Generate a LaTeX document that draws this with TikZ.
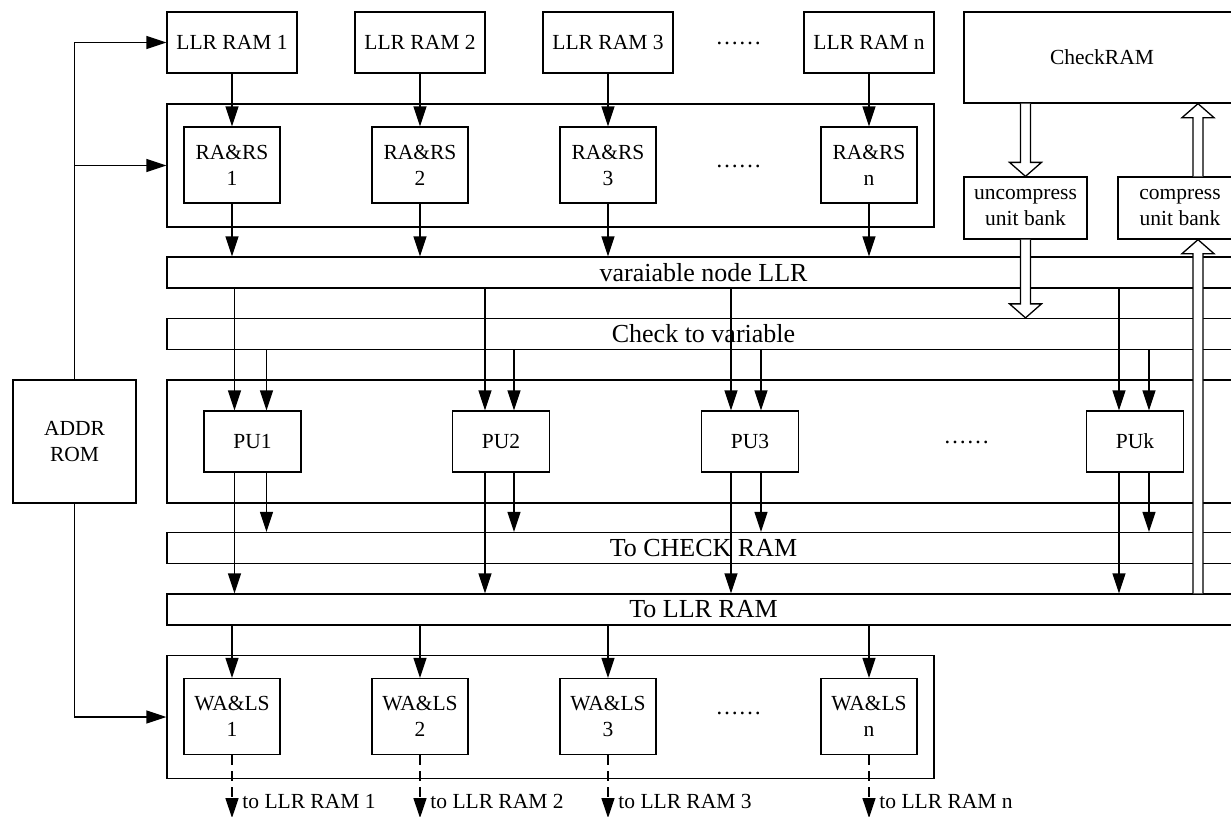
\documentclass[tikz,border=0pt]{standalone}
\usepackage{fontspec}
\setmainfont{Liberation Serif}
\usetikzlibrary{arrows.meta,calc}

% hollow block arrow between two points on one vertical
\newcommand{\fatarrow}[2]{%
  \draw[fatarr] let \p1=(#1), \p2=(#2), \n1={sign(\y1-\y2)} in
    ({\x1-2.5pt},\y1) -- ({\x1-2.5pt},{\y2+(\n1)*7pt}) -- ({\x1-8pt},{\y2+(\n1)*7pt})
    -- (\x1,\y2) -- ({\x1+8pt},{\y2+(\n1)*7pt}) -- ({\x1+2.5pt},{\y2+(\n1)*7pt})
    -- ({\x1+2.5pt},\y1);}

\begin{document}
\begin{tikzpicture}[x=0.5pt, y=-0.5pt,
  box/.style={draw, line width=0.65pt, inner sep=0pt, align=center, font={\fontsize{10.75}{13}\selectfont}},
  ram/.style={box, minimum width=65pt, minimum height=30.5pt},
  unit/.style={box, minimum width=48pt, minimum height=38pt},
  pu/.style={box, minimum width=48.5pt, minimum height=30.5pt},
  bank/.style={draw, line width=0.65pt, inner sep=0pt, minimum width=383.5pt, minimum height=61.5pt},
  bus/.style={draw, line width=0.65pt, inner sep=0pt, minimum width=536.5pt, minimum height=15.5pt, font={\fontsize{13}{15}\selectfont}},
  arr/.style={line width=0.65pt, -{Triangle[length=10pt, width=6.5pt]}},
  outarr/.style={arr, dash pattern=on 5pt off 3pt},
  fatarr/.style={draw, fill=white, line width=0.65pt, line join=miter},
  lbl/.style={anchor=west, inner sep=0pt, font={\fontsize{10.75}{13}\selectfont}},
  dots/.style={anchor=base, inner sep=0pt, font={\fontsize{11.5}{13}\selectfont}}
]
\useasboundingbox (0,0) rectangle (1231,816);
\clip (0,0) rectangle (1231,816);

% memories and read side
\node[ram] (ram1) at (232,42.5) {LLR RAM 1};
\node[ram] (ram2) at (420,42.5) {LLR RAM 2};
\node[ram] (ram3) at (608,42.5) {LLR RAM 3};
\node[ram] (ramn) at (869,42.5) {LLR RAM n};
\node[dots] (rdots) at (738.5,44) {……};
\node[box, minimum width=138pt, minimum height=45.5pt] (chk) at (1102,57.5) {CheckRAM};

\node[bank] (rabank) at (550.5,165.5) {};
\node[unit] (ra1) at (232,165) {RA\&RS\\1};
\node[unit] (ra2) at (420,165) {RA\&RS\\2};
\node[unit] (ra3) at (608,165) {RA\&RS\\3};
\node[unit] (ran) at (869,165) {RA\&RS\\n};
\node[dots] (adots) at (738.5,167) {……};
\node[box, minimum width=61.5pt, minimum height=31pt] (unc) at (1025.5,208) {uncompress\\unit bank};
\node[box, minimum width=62pt, minimum height=31pt] (cmp) at (1180,208) {compress\\unit bank};

% buses and processing units
\node[bus] (vbus) at (703.5,272.5) {varaiable node LLR};
\node[bus] (cbus) at (703.5,334) {Check to variable};
\node[draw, line width=0.65pt, inner sep=0pt, minimum width=536.5pt, minimum height=61.5pt] (pubank) at (703.5,441.5) {};
\node[pu] (pu1) at (252.5,441.5) {PU1};
\node[pu] (pu2) at (501,441.5) {PU2};
\node[pu] (pu3) at (750,441.5) {PU3};
\node[pu] (puk) at (1135,441.5) {PUk};
\node[dots] (pdots) at (966.5,443) {……};
\node[bus] (tcbus) at (703.5,548) {To CHECK RAM};
\node[bus] (tlbus) at (703.5,609.5) {To LLR RAM};

% write side
\node[bank] (wabank) at (550.5,717) {};
\node[unit] (wa1) at (232,716.5) {WA\&LS\\1};
\node[unit] (wa2) at (420,716.5) {WA\&LS\\2};
\node[unit] (wa3) at (608,716.5) {WA\&LS\\3};
\node[unit] (wan) at (869,716.5) {WA\&LS\\n};
\node[dots] (wdots) at (738.5,714) {……};
\node[box, minimum width=61.5pt, minimum height=61.5pt] (addr) at (74.5,441.5) {ADDR\\ROM};

\coordinate (bot) at (0,818);
\node[lbl] (o1) at (242,801) {to LLR RAM 1};
\node[lbl] (o2) at (430,801) {to LLR RAM 2};
\node[lbl] (o3) at (618,801) {to LLR RAM 3};
\node[lbl] (on) at (879,801) {to LLR RAM n};

% address lines
\draw[arr] (addr.north) -- (addr.north |- ram1.west) -- (ram1.west);
\draw[arr] (addr.north |- rabank.west) -- (rabank.west);
\draw[arr] (addr.south) -- (addr.south |- wabank.west) -- (wabank.west);

% read path
\draw[arr] (ram1) -- (ra1);
\draw[arr] (ram2) -- (ra2);
\draw[arr] (ram3) -- (ra3);
\draw[arr] (ramn) -- (ran);
\draw[arr] (ra1) -- (ra1 |- vbus.north);
\draw[arr] (ra2) -- (ra2 |- vbus.north);
\draw[arr] (ra3) -- (ra3 |- vbus.north);
\draw[arr] (ran) -- (ran |- vbus.north);

% unit inputs
\draw[arr] ([xshift=-9pt]pu1.north |- vbus.south) -- ([xshift=-9pt]pu1.north);
\draw[arr] ([xshift=7pt]pu1.north |- cbus.south) -- ([xshift=7pt]pu1.north);
\draw[arr] ([xshift=-8pt]pu2.north |- vbus.south) -- ([xshift=-8pt]pu2.north);
\draw[arr] ([xshift=6.5pt]pu2.north |- cbus.south) -- ([xshift=6.5pt]pu2.north);
\draw[arr] ([xshift=-9.5pt]pu3.north |- vbus.south) -- ([xshift=-9.5pt]pu3.north);
\draw[arr] ([xshift=5.5pt]pu3.north |- cbus.south) -- ([xshift=5.5pt]pu3.north);
\draw[arr] ([xshift=-8pt]puk.north |- vbus.south) -- ([xshift=-8pt]puk.north);
\draw[arr] ([xshift=7pt]puk.north |- cbus.south) -- ([xshift=7pt]puk.north);

% unit outputs
\draw[arr] ([xshift=7pt]pu1.south) -- ([xshift=7pt]pu1.south |- tcbus.north);
\draw[arr] ([xshift=-9pt]pu1.south) -- ([xshift=-9pt]pu1.south |- tlbus.north);
\draw[arr] ([xshift=6.5pt]pu2.south) -- ([xshift=6.5pt]pu2.south |- tcbus.north);
\draw[arr] ([xshift=-8pt]pu2.south) -- ([xshift=-8pt]pu2.south |- tlbus.north);
\draw[arr] ([xshift=5.5pt]pu3.south) -- ([xshift=5.5pt]pu3.south |- tcbus.north);
\draw[arr] ([xshift=-9.5pt]pu3.south) -- ([xshift=-9.5pt]pu3.south |- tlbus.north);
\draw[arr] ([xshift=7pt]puk.south) -- ([xshift=7pt]puk.south |- tcbus.north);
\draw[arr] ([xshift=-8pt]puk.south) -- ([xshift=-8pt]puk.south |- tlbus.north);

% write path
\draw[arr] (wa1 |- tlbus.south) -- (wa1);
\draw[arr] (wa2 |- tlbus.south) -- (wa2);
\draw[arr] (wa3 |- tlbus.south) -- (wa3);
\draw[arr] (wan |- tlbus.south) -- (wan);
\draw[outarr] (wa1) -- (wa1 |- bot);
\draw[outarr] (wa2) -- (wa2 |- bot);
\draw[outarr] (wa3) -- (wa3 |- bot);
\draw[outarr] (wan) -- (wan |- bot);

% check memory traffic
\fatarrow{chk.south -| unc.north}{unc.north}
\fatarrow{unc.south}{unc.south |- cbus.north}
\fatarrow{[xshift=9pt]cmp.south |- tlbus.north}{[xshift=9pt]cmp.south}
\fatarrow{[xshift=9pt]cmp.north}{[xshift=9pt]cmp.north |- chk.south}
\end{tikzpicture}
\end{document}
